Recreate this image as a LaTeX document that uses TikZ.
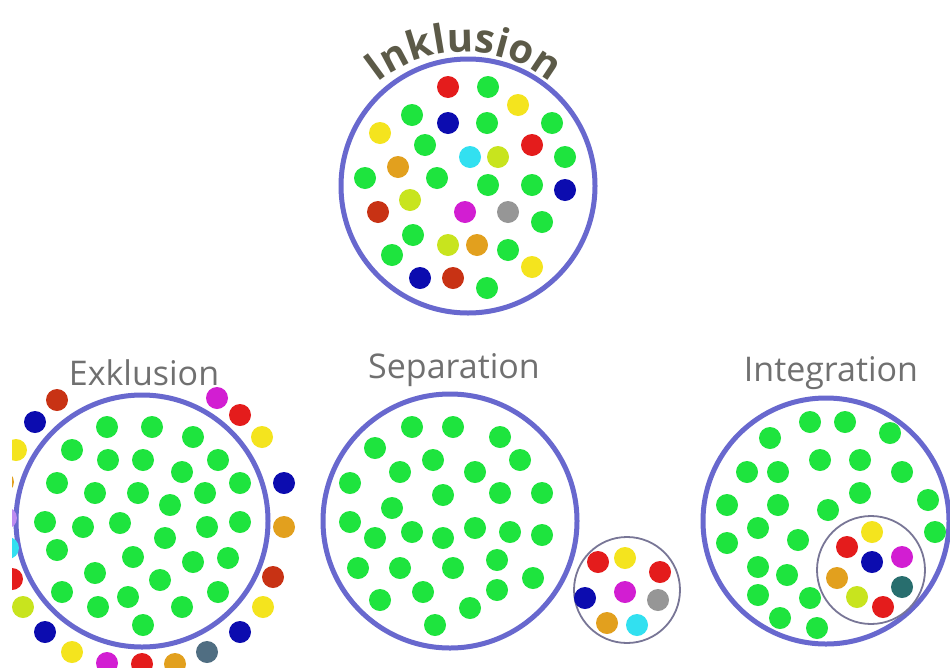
\documentclass[tikz,border=0pt]{standalone}
\usepackage{fontspec}
\setmainfont{Open Sans}
\usetikzlibrary{decorations.text}
\definecolor{ring}{RGB}{104,104,206}
\definecolor{smallring}{RGB}{120,118,150}
\definecolor{labelgray}{RGB}{112,112,112}
\definecolor{titlegray}{RGB}{92,90,72}
\definecolor{kGreen}{RGB}{30,228,62}
\definecolor{kRed}{RGB}{228,28,28}
\definecolor{kRedB}{RGB}{200,50,20}
\definecolor{kBlue}{RGB}{12,12,175}
\definecolor{kYel}{RGB}{244,228,30}
\definecolor{kYG}{RGB}{200,228,30}
\definecolor{kOr}{RGB}{226,160,30}
\definecolor{kCy}{RGB}{50,224,240}
\definecolor{kMag}{RGB}{210,30,210}
\definecolor{kVio}{RGB}{190,140,240}
\definecolor{kGray}{RGB}{150,150,150}
\definecolor{kSlate}{RGB}{80,110,130}
\definecolor{kTeal}{RGB}{40,110,110}
\tikzset{
  bigring/.style={draw=ring, line width=5pt},
  subring/.style={draw=smallring, line width=1.8pt},
  label/.style={text=labelgray, font=\fontsize{34}{36}\selectfont, inner sep=0pt},
}
\newcommand\dotset[1]{\foreach \px/\py/\pc in {#1} {\fill[\pc] (\px,\py) circle[radius=11];}}
\begin{document}
\begin{tikzpicture}[x=1pt,y=-1pt]
\useasboundingbox (0,0) rectangle (950,667);
\fill[white] (0,0) rectangle (950,667);

% ---------- Inklusion ----------
\draw[bigring] (468,186) circle[radius=127];
\dotset{448/87/kRed, 488/87/kGreen, 518/105/kYel, 412/115/kGreen, 448/123/kBlue,
 487/123/kGreen, 552/123/kGreen, 380/133/kYel, 425/145/kGreen, 532/145/kRed,
 470/157/kCy, 498/157/kYG, 565/157/kGreen, 398/167/kOr, 365/178/kGreen,
 437/178/kGreen, 488/185/kGreen, 532/185/kGreen, 565/190/kBlue, 410/200/kYG,
 378/212/kRedB, 465/212/kMag, 508/212/kGray, 542/222/kGreen, 413/235/kGreen,
 448/245/kYG, 477/245/kOr, 508/250/kGreen, 392/255/kGreen, 532/267/kYel,
 420/278/kBlue, 453/278/kRedB, 487/288/kGreen}
\path[decorate, decoration={text along path, text align=center,
  text={|\fontsize{40}{42}\selectfont\bfseries\color{titlegray}|Inklusion}}]
  (464,188) ++(-155:136) arc[start angle=-155, end angle=-25, radius=136];

% ---------- Exklusion ----------
\node[label] (exkl) at (144,373) {Exklusion};
\draw[bigring] (142,521) circle[radius=126];
\dotset{107/427/kGreen, 152/427/kGreen, 193/437/kGreen, 72/450/kGreen,
 108/460/kGreen, 143/460/kGreen, 218/460/kGreen, 182/472/kGreen, 57/483/kGreen,
 240/483/kGreen, 95/493/kGreen, 138/493/kGreen, 205/493/kGreen, 170/505/kGreen,
 45/522/kGreen, 83/527/kGreen, 120/523/kGreen, 207/527/kGreen, 240/522/kGreen,
 165/538/kGreen, 57/550/kGreen, 133/557/kGreen, 193/562/kGreen, 228/558/kGreen,
 95/573/kGreen, 160/580/kGreen, 62/592/kGreen, 128/597/kGreen, 218/592/kGreen,
 98/607/kGreen, 182/607/kGreen, 143/625/kGreen}
\begin{scope}
\clip (12,0) rectangle (950,667);
\dotset{57/400/kRedB, 35/422/kBlue, 16/450/kYel, 3/482/kOr, 6/518/kVio,
 8/548/kCy, 12/579/kRed, 23/607/kYG, 45/632/kBlue, 72/652/kYel, 107/663/kMag,
 142/664/kRed, 175/664/kOr, 207/652/kSlate, 240/632/kBlue, 263/607/kYel,
 273/577/kRedB, 284/527/kOr, 284/483/kBlue, 262/437/kYel, 240/415/kRed,
 217/398/kMag}
\end{scope}

% ---------- Separation ----------
\node[label] (sep) at (454,370) {Separation};
\draw[bigring] (450,521) circle[radius=127];
\dotset{412/427/kGreen, 453/427/kGreen, 500/437/kGreen, 375/448/kGreen,
 433/460/kGreen, 520/460/kGreen, 400/472/kGreen, 475/472/kGreen, 350/483/kGreen,
 443/495/kGreen, 500/493/kGreen, 542/493/kGreen, 392/508/kGreen, 350/522/kGreen,
 412/532/kGreen, 475/528/kGreen, 510/532/kGreen, 542/535/kGreen, 375/538/kGreen,
 443/538/kGreen, 497/560/kGreen, 358/568/kGreen, 400/568/kGreen, 453/568/kGreen,
 533/578/kGreen, 423/592/kGreen, 497/590/kGreen, 380/600/kGreen, 470/608/kGreen,
 435/625/kGreen}
\draw[subring] (627,590) circle[radius=53];
\dotset{598/562/kRed, 625/558/kYel, 660/572/kRed, 585/598/kBlue, 625/592/kMag,
 658/600/kGray, 607/623/kOr, 637/625/kCy}

% ---------- Integration ----------
\node[label] (integ) at (831,373) {Integration};
\draw[bigring] (826,521) circle[radius=123];
\dotset{810/422/kGreen, 845/422/kGreen, 890/433/kGreen, 770/438/kGreen,
 820/460/kGreen, 860/460/kGreen, 747/472/kGreen, 778/472/kGreen, 902/472/kGreen,
 860/493/kGreen, 727/505/kGreen, 778/505/kGreen, 828/510/kGreen, 928/500/kGreen,
 758/528/kGreen, 798/540/kGreen, 935/532/kGreen, 727/543/kGreen, 758/567/kGreen,
 787/575/kGreen, 758/595/kGreen, 810/598/kGreen, 780/618/kGreen, 817/628/kGreen}
\draw[subring] (871,570) circle[radius=54];
\dotset{872/532/kYel, 847/547/kRed, 872/562/kBlue, 902/557/kMag, 837/578/kOr,
 902/587/kTeal, 857/597/kYG, 883/607/kRed}
\end{tikzpicture}
\end{document}
